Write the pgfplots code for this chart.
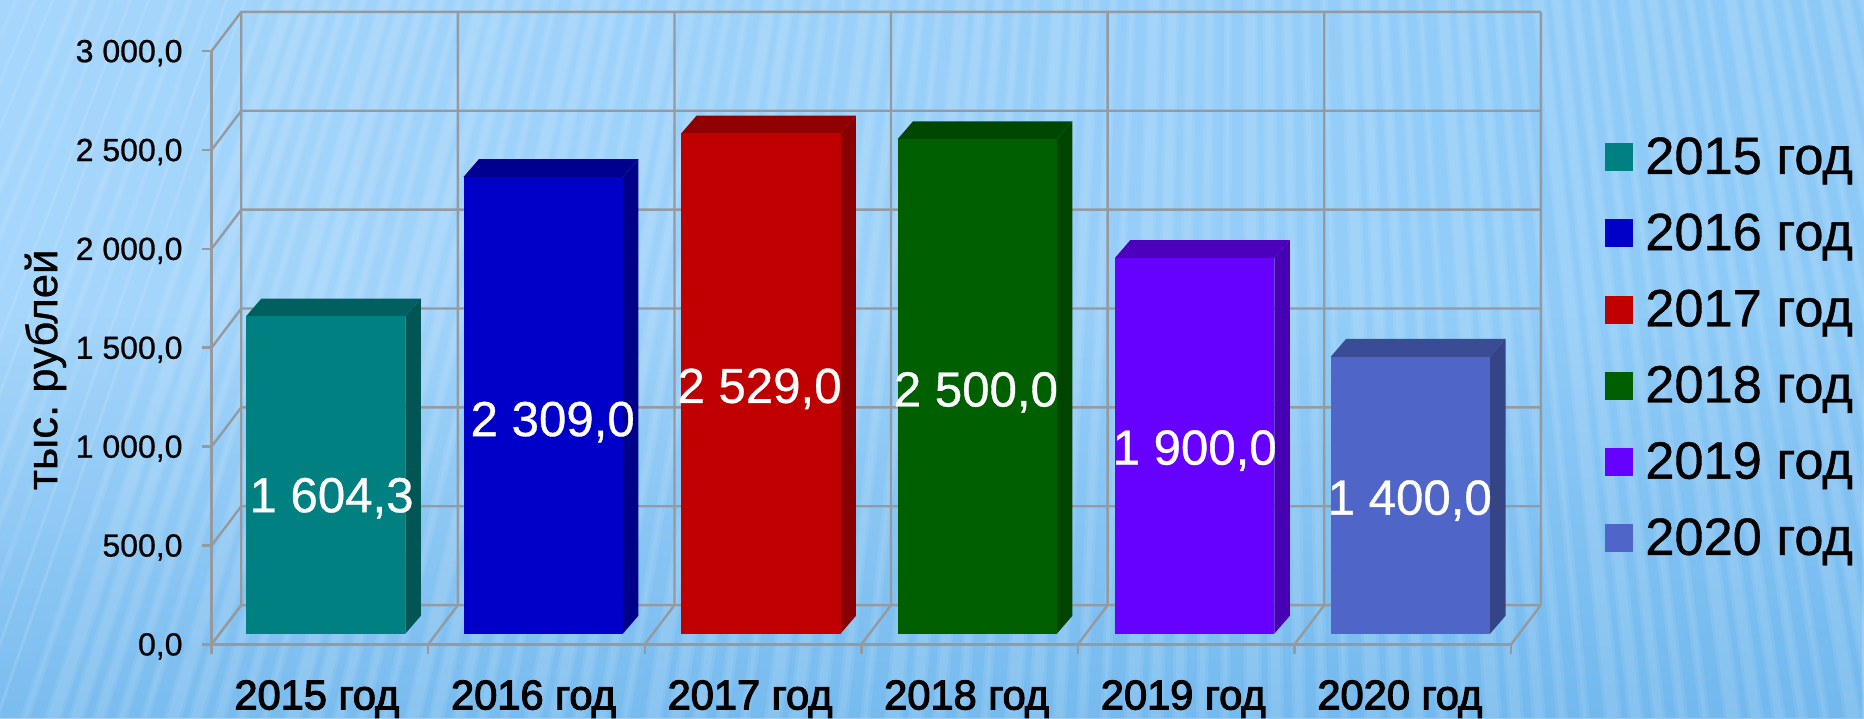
\documentclass[border=0pt]{standalone}
\usepackage{fontspec}
\setmainfont{Liberation Sans}
\newfontfamily\boldish[FakeBold=2.8]{Liberation Sans}
\newfontfamily\semi[FakeBold=0.7]{Liberation Sans}
\usepackage{pgfplots}
\pgfplotsset{compat=1.18}
\usetikzlibrary{fadings}
\definecolor{gridc}{HTML}{949AA0}
\definecolor{bgA}{HTML}{A6D6FB}
\definecolor{bgB}{HTML}{B4DFFF}
\definecolor{bgC}{HTML}{8CC9F7}
\definecolor{bgD}{HTML}{68B2EA}
\definecolor{cA}{HTML}{008080}\definecolor{cAt}{HTML}{006060}\definecolor{cAs}{HTML}{005555}
\definecolor{cB}{HTML}{0000C8}\definecolor{cBt}{HTML}{000090}\definecolor{cBs}{HTML}{000088}
\definecolor{cC}{HTML}{C00000}\definecolor{cCt}{HTML}{900000}\definecolor{cCs}{HTML}{880000}
\definecolor{cD}{HTML}{006000}\definecolor{cDt}{HTML}{004800}\definecolor{cDs}{HTML}{004400}
\definecolor{cE}{HTML}{6600FF}\definecolor{cEt}{HTML}{4C00BE}\definecolor{cEs}{HTML}{4800B4}
\definecolor{cF}{HTML}{4F66C8}\definecolor{cFt}{HTML}{3B4C96}\definecolor{cFs}{HTML}{344484}
\tikzset{wall/.style={draw=gridc,line width=1.2pt}}
\pgfplotsset{
  face/.style={ybar,bar width=79.65pt,bar shift=0pt,fill=#1,draw=none,yshift=5.35pt},
  shell/.style={fill=#1,draw=none,yshift=5.35pt,forget plot},
}
\begin{document}
\begin{tikzpicture}[x=1pt,y=1pt]
\useasboundingbox (0,0) rectangle (932,359);
\begin{scope}
\clip (0,0) rectangle (932,359);
\shade[left color=bgA,middle color=bgB,right color=bgC] (0,0) rectangle (932,359);
\begin{scope}
\clip (0,0) rectangle (932,200);
\fill[bgD,path fading=north,fill opacity=.7] (0,0) rectangle (932,200);
\end{scope}
\foreach \b in {-170,-158,...,1020}{
  \pgfmathsetmacro\w{5+mod(\b*7,5)}
  \fill[white,opacity=.08] (620,1800) -- (\b,0) -- ++(\w,0) -- cycle;
  \fill[white,opacity=.07] (620,1800) -- (\b+1.5,0) -- ++(\w-3,0) -- cycle;
}
\end{scope}
\begin{axis}[
  at={(105.8pt,36.85pt)},anchor=south west,
  scale only axis,width=664.6pt,height=316.2pt,
  xmin=0,xmax=6.137,ymin=0,ymax=3198,
  clip=false,
  axis lines=left,
  axis line style={draw=none,-},
  tick style={draw=gridc,line width=1.2pt},
  major tick length=5pt,
  tick align=outside,
  xtick={0,1,2,3,4,5,6},
  x tick label as interval=true,
  xticklabels={2015 год,2016 год,2017 год,2018 год,2019 год,2020 год},
  xticklabel style={font=\boldish\fontsize{20.8}{24}\selectfont,yshift=-9.5pt,xshift=-1.5pt},
  ytick={0,500,1000,1500,2000,2500,3000},
  yticklabels={{0,0},{500,0},{1 000,0},{1 500,0},{2 000,0},{2 500,0},{3 000,0}},
  yticklabel style={font=\semi\fontsize{16}{19}\selectfont,xshift=-6pt,yshift=-1pt},
  every axis y label/.style={at={(axis description cs:-0.125,0.434)},rotate=90,anchor=center},
  ylabel={тыс.\ рублей},
  label style={font=\semi\fontsize{21.8}{25}\selectfont},
  legend image code/.code={\fill[#1] (0pt,-12.4pt) rectangle (14pt,1.6pt);\path (18pt,0pt);},
  legend style={at={(axis description cs:1.0437,0.815)},anchor=north west,draw=none,fill=none,
    font=\semi\fontsize{26.2}{30}\selectfont,row sep=14.3pt},
  legend cell align=left,
]
% side wall, back wall, floor
\pgfplotsinvokeforeach{0,500,1000,1500,2000,2500,3000}{
  \draw[wall] (axis cs:0,#1) -- (axis cs:0.137,#1+198) -- (axis cs:6.137,#1+198);
}
\pgfplotsinvokeforeach{0,1,2,3,4,5,6}{
  \draw[wall] (axis cs:#1,0) -- (axis cs:#1+0.137,198) -- (axis cs:#1+0.137,3198);
}
\draw[wall] (axis cs:0,0) -- (axis cs:0,3000);
\draw[wall] (axis cs:0,0) -- (axis cs:6,0);
% 3D shells
\addplot[shell=cAt] coordinates {(0.159,1604.3)(0.230,1694.3)(0.966,1694.3)(0.895,1604.3)} -- cycle;
\addplot[shell=cAs] coordinates {(0.895,0)(0.966,90)(0.966,1694.3)(0.895,1604.3)} -- cycle;
\addplot[shell=cBt] coordinates {(1.163,2309)(1.234,2399)(1.970,2399)(1.899,2309)} -- cycle;
\addplot[shell=cBs] coordinates {(1.899,0)(1.970,90)(1.970,2399)(1.899,2309)} -- cycle;
\addplot[shell=cCt] coordinates {(2.168,2529)(2.239,2619)(2.975,2619)(2.904,2529)} -- cycle;
\addplot[shell=cCs] coordinates {(2.904,0)(2.975,90)(2.975,2619)(2.904,2529)} -- cycle;
\addplot[shell=cDt] coordinates {(3.167,2500)(3.238,2590)(3.974,2590)(3.903,2500)} -- cycle;
\addplot[shell=cDs] coordinates {(3.903,0)(3.974,90)(3.974,2590)(3.903,2500)} -- cycle;
\addplot[shell=cEt] coordinates {(4.171,1900)(4.242,1990)(4.978,1990)(4.907,1900)} -- cycle;
\addplot[shell=cEs] coordinates {(4.907,0)(4.978,90)(4.978,1990)(4.907,1900)} -- cycle;
\addplot[shell=cFt] coordinates {(5.167,1400)(5.238,1490)(5.974,1490)(5.903,1400)} -- cycle;
\addplot[shell=cFs] coordinates {(5.903,0)(5.974,90)(5.974,1490)(5.903,1400)} -- cycle;
% fronts
\addplot[face=cA] coordinates {(0.527,1604.3)};
\addplot[face=cB] coordinates {(1.531,2309)};
\addplot[face=cC] coordinates {(2.536,2529)};
\addplot[face=cD] coordinates {(3.535,2500)};
\addplot[face=cE] coordinates {(4.539,1900)};
\addplot[face=cF] coordinates {(5.535,1400)};
\legend{2015 год,2016 год,2017 год,2018 год,2019 год,2020 год}
% value labels
\addplot[only marks,mark=none,forget plot,point meta=explicit symbolic,nodes near coords,
  every node near coord/.append style={anchor=center,text=white,yshift=-1.2pt,font=\semi\fontsize{24.6}{28}\selectfont}]
  coordinates {(0.554,751)[1 604,3] (1.575,1136)[2 309,0] (2.530,1304)[2 529,0]
               (3.529,1286)[2 500,0] (4.539,992)[1 900,0] (5.532,739)[1 400,0]};
\end{axis}
\end{tikzpicture}
\end{document}
